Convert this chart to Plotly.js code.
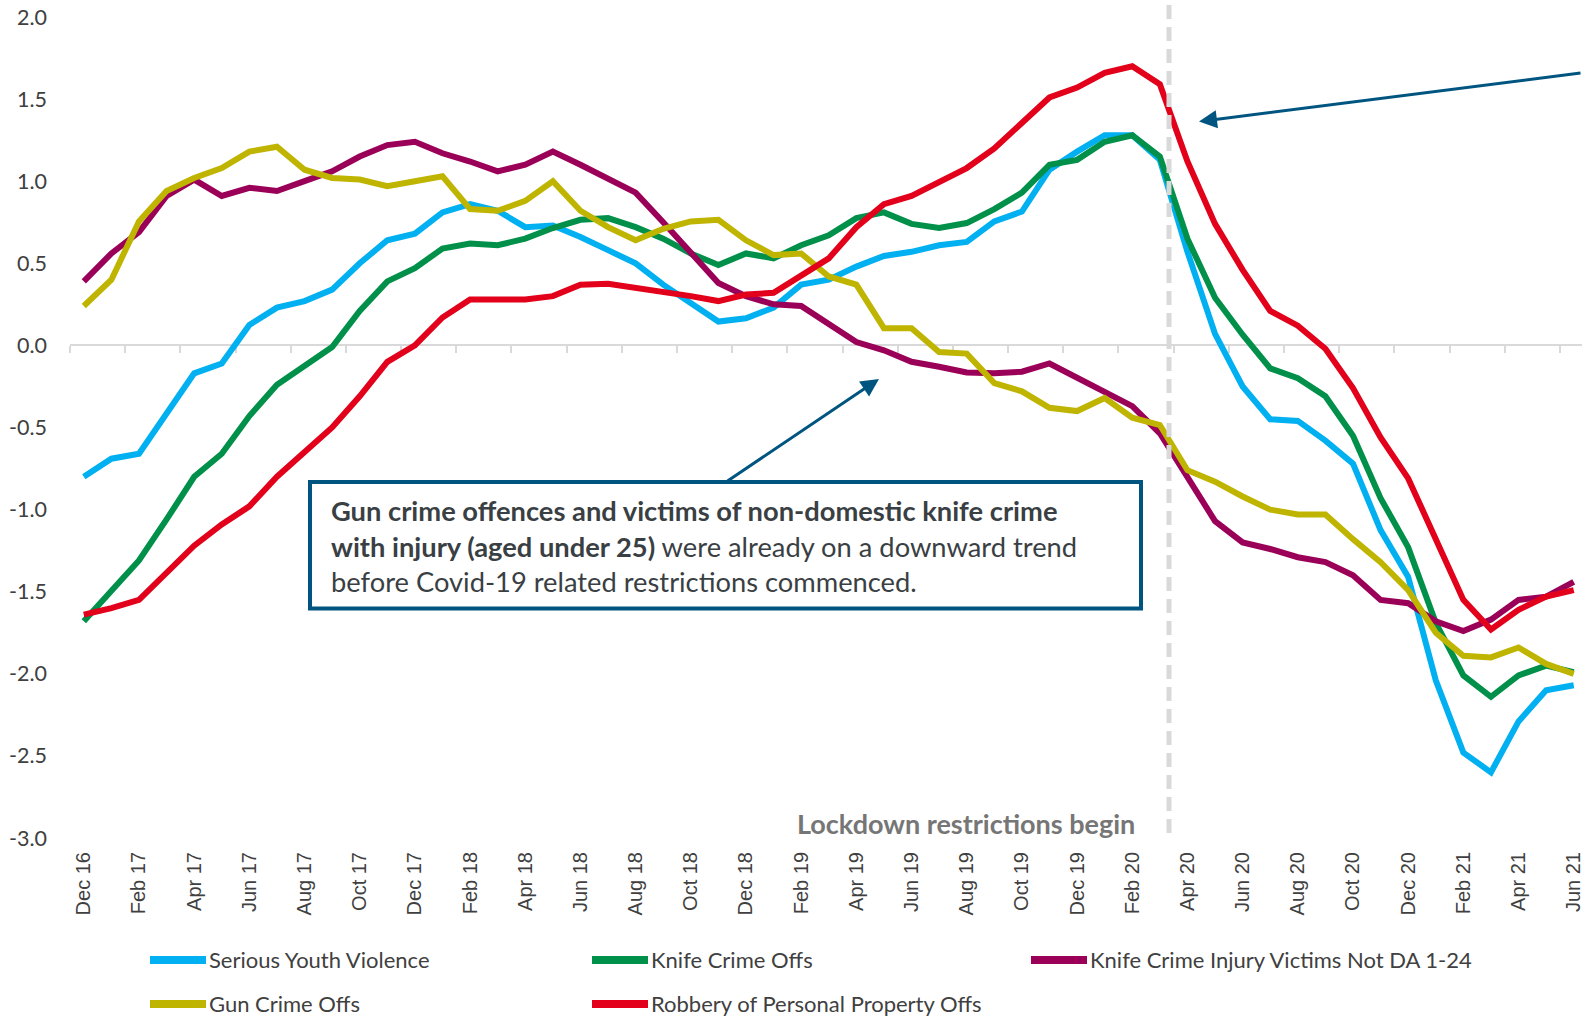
<!DOCTYPE html>
<html>
<head>
<meta charset="utf-8">
<script src="https://cdn.plot.ly/plotly-3.0.1.min.js"></script>
<style>html,body{margin:0;padding:0;background:#fff;}#chart{width:1582px;height:1017px;}</style>
</head>
<body>
<div id="chart"></div>
<script>
const months = ["Dec 16","Jan 17","Feb 17","Mar 17","Apr 17","May 17","Jun 17","Jul 17","Aug 17","Sep 17","Oct 17","Nov 17",
"Dec 17","Jan 18","Feb 18","Mar 18","Apr 18","May 18","Jun 18","Jul 18","Aug 18","Sep 18","Oct 18","Nov 18",
"Dec 18","Jan 19","Feb 19","Mar 19","Apr 19","May 19","Jun 19","Jul 19","Aug 19","Sep 19","Oct 19","Nov 19",
"Dec 19","Jan 20","Feb 20","Mar 20","Apr 20","May 20","Jun 20","Jul 20","Aug 20","Sep 20","Oct 20","Nov 20",
"Dec 20","Jan 21","Feb 21","Mar 21","Apr 21","May 21","Jun 21"];

const seriousYouthViolence = [-0.80,-0.69,-0.66,-0.42,-0.17,-0.11,0.125,0.23,0.27,0.34,0.50,0.64,
0.68,0.81,0.86,0.82,0.72,0.73,0.66,0.58,0.50,0.37,0.26,0.145,
0.165,0.23,0.37,0.40,0.48,0.545,0.57,0.61,0.63,0.755,0.815,1.07,
1.18,1.28,1.28,1.13,0.57,0.07,-0.25,-0.45,-0.46,-0.58,-0.72,-1.125,
-1.41,-2.04,-2.48,-2.60,-2.29,-2.10,-2.07];

const knifeCrimeOffs = [-1.68,-1.49,-1.31,-1.06,-0.80,-0.66,-0.43,-0.24,-0.12,-0.01,0.21,0.39,
0.47,0.59,0.62,0.61,0.65,0.715,0.765,0.775,0.72,0.65,0.56,0.49,
0.56,0.53,0.61,0.67,0.775,0.81,0.74,0.715,0.745,0.83,0.93,1.10,
1.13,1.24,1.28,1.15,0.65,0.29,0.065,-0.14,-0.20,-0.31,-0.55,-0.93,
-1.23,-1.69,-2.01,-2.14,-2.01,-1.95,-1.99];

const knifeInjuryVictims = [0.39,0.56,0.69,0.91,1.01,0.91,0.96,0.94,1.00,1.06,1.15,1.22,
1.24,1.17,1.12,1.06,1.10,1.18,1.10,1.01,0.93,0.75,0.57,0.38,
0.30,0.25,0.24,0.135,0.02,-0.03,-0.10,-0.13,-0.165,-0.17,-0.16,-0.11,
-0.20,-0.28,-0.37,-0.535,-0.81,-1.07,-1.20,-1.24,-1.29,-1.32,-1.40,-1.55,
-1.57,-1.68,-1.74,-1.67,-1.55,-1.53,-1.44];

const gunCrimeOffs = [0.24,0.40,0.755,0.94,1.02,1.08,1.18,1.21,1.07,1.02,1.01,0.97,
1.00,1.03,0.83,0.82,0.88,1.00,0.82,0.72,0.64,0.71,0.755,0.765,
0.64,0.55,0.56,0.42,0.37,0.105,0.105,-0.04,-0.05,-0.23,-0.28,-0.38,
-0.40,-0.32,-0.44,-0.485,-0.76,-0.83,-0.92,-1.00,-1.03,-1.03,-1.18,-1.32,
-1.49,-1.75,-1.89,-1.90,-1.84,-1.94,-2.00];

const robberyPersonalProperty = [-1.64,-1.60,-1.55,-1.39,-1.22,-1.09,-0.98,-0.80,-0.65,-0.50,-0.31,-0.10,
0.00,0.17,0.28,0.28,0.28,0.30,0.37,0.375,0.35,0.33,0.30,0.27,
0.31,0.32,0.42,0.53,0.72,0.86,0.91,0.99,1.08,1.20,1.355,1.51,
1.57,1.66,1.70,1.59,1.12,0.74,0.46,0.21,0.12,-0.02,-0.26,-0.56,
-0.81,-1.17,-1.55,-1.73,-1.61,-1.53,-1.49];

const seriesNames = ["Serious Youth Violence","Knife Crime Offs","Knife Crime Injury Victims Not DA 1-24","Gun Crime Offs","Robbery of Personal Property Offs"];
const seriesValues = [seriousYouthViolence, knifeCrimeOffs, knifeInjuryVictims, gunCrimeOffs, robberyPersonalProperty];
const seriesColors = ["#00B0F0","#00904A","#9B0058","#BFB500","#E2001A"];

const yTickVals = [-3,-2.5,-2,-1.5,-1,-0.5,0,0.5,1,1.5,2];
const yTickText = ["-3.0","-2.5","-2.0","-1.5","-1.0","-0.5","0.0","0.5","1.0","1.5","2.0"];

const boxLines = [
  "<b>Gun crime offences and victims of non-domestic knife crime</b>",
  "<b>with injury (aged under 25)</b> were already on a downward trend",
  "before Covid-19 related restrictions commenced."
];
const lockdownLabel = "<b>Lockdown restrictions begin</b>";

// ---- layout geometry (pixels) ----
const W = 1582, H = 1017;
const M = {l:70, r:0, t:17, b:179};
const plotW = W - M.l - M.r, plotH = H - M.t - M.b;
const px = x => (x - M.l) / plotW;
const py = y => (H - M.b - y) / plotH;
const xRange = [-0.5, 54.3];

const traces = [{
  x: [0], y: [null], xaxis: 'x2', yaxis: 'y', mode: 'lines',
  hoverinfo: 'skip', showlegend: false
}];
seriesNames.forEach((name, k) => {
  traces.push({
    x: months, y: seriesValues[k], name: name, type: 'scatter', mode: 'lines',
    line: {color: seriesColors[k], width: 6}
  });
});

const boundaryTicks = [];
for (let v = -0.5; v < months.length - 1; v += 2) boundaryTicks.push(v);

const shapes = [];
const annotations = [];

// lockdown dashed line
shapes.push({type:'line', xref:'paper', yref:'paper', x0:px(1169), x1:px(1169), y0:py(833), y1:py(5),
  line:{color:'#D9D9D9', width:5, dash:'14px,8px'}, layer:'above'});
annotations.push({xref:'paper', yref:'paper', x:px(1137), y:py(823), xanchor:'right', yanchor:'middle',
  text: lockdownLabel, showarrow:false, font:{family:'Lato, Open Sans, sans-serif', size:27, color:'#767676'}});

// text box
shapes.push({type:'rect', xref:'paper', yref:'paper', x0:px(310), x1:px(1141), y0:py(608.5), y1:py(482),
  line:{color:'#005580', width:4}, fillcolor:'white', layer:'above'});
const lineY = [510.5, 546, 581];
boxLines.forEach((t, i) => {
  annotations.push({xref:'paper', yref:'paper', x:px(329), y:py(lineY[i]), xanchor:'left', yanchor:'middle',
    text:t, showarrow:false, align:'left', font:{family:'Lato, Open Sans, sans-serif', size:27.3, color:'#3A3F44'}});
});

// arrows
annotations.push({xref:'paper', yref:'paper', x:px(879), y:py(379), ax:-153, ay:103, text:'', showarrow:true,
  arrowhead:2, arrowsize:1.2, arrowwidth:3, arrowcolor:'#005580', standoff:0});
annotations.push({xref:'paper', yref:'paper', x:px(1199), y:py(121.5), ax:401, ay:-48.7, text:'', showarrow:true,
  arrowhead:2, arrowsize:1.2, arrowwidth:3, arrowcolor:'#005580', standoff:0});

// custom legend
const legCols = [150, 592, 1031];
const legRows = [960, 1004];
seriesNames.forEach((name, k) => {
  const col = k % 3, row = Math.floor(k / 3);
  const x0 = legCols[col], y0 = legRows[row];
  shapes.push({type:'line', xref:'paper', yref:'paper', x0:px(x0), x1:px(x0 + 56), y0:py(y0), y1:py(y0),
    line:{color:seriesColors[k], width:8}});
  annotations.push({xref:'paper', yref:'paper', x:px(x0 + 57), y:py(y0), xanchor:'left', yanchor:'middle',
    text:name, showarrow:false, font:{family:'Lato, Open Sans, sans-serif', size:22, color:'#404040'}});
});

const layout = {
  width: W, height: H,
  margin: {l:M.l, r:M.r, t:M.t, b:M.b, pad:0},
  paper_bgcolor: 'white', plot_bgcolor: 'white',
  showlegend: false,
  xaxis: {type:'category', range:xRange, tickmode:'array',
    tickvals: months.filter((m, i) => i % 2 === 0),
    tickangle: -90, ticks:'', showline:false, showgrid:false, zeroline:false,
    ticklabelstandoff: 9,
    tickfont:{family:'Liberation Sans, Arial, sans-serif', size:20, color:'#404040'}},
  xaxis2: {overlaying:'x', anchor:'free', position:0.6, range:xRange, type:'linear',
    tickmode:'array', tickvals: boundaryTicks, ticks:'outside', ticklen:7, tickwidth:2, tickcolor:'#D9D9D9',
    showticklabels:false, showline:true, linecolor:'#D9D9D9', linewidth:2, showgrid:false, zeroline:false,
    layer:'below traces'},
  yaxis: {range:[-3, 2], tickmode:'array', tickvals:yTickVals, ticktext:yTickText,
    showgrid:false, zeroline:false, showline:false, ticks:'', ticklabelstandoff: 22,
    tickfont:{family:'Lato, Open Sans, sans-serif', size:21.5, color:'#404040'}},
  shapes: shapes,
  annotations: annotations
};

Plotly.newPlot('chart', traces, layout, {displayModeBar:false, staticPlot:true});
</script>
</body>
</html>
